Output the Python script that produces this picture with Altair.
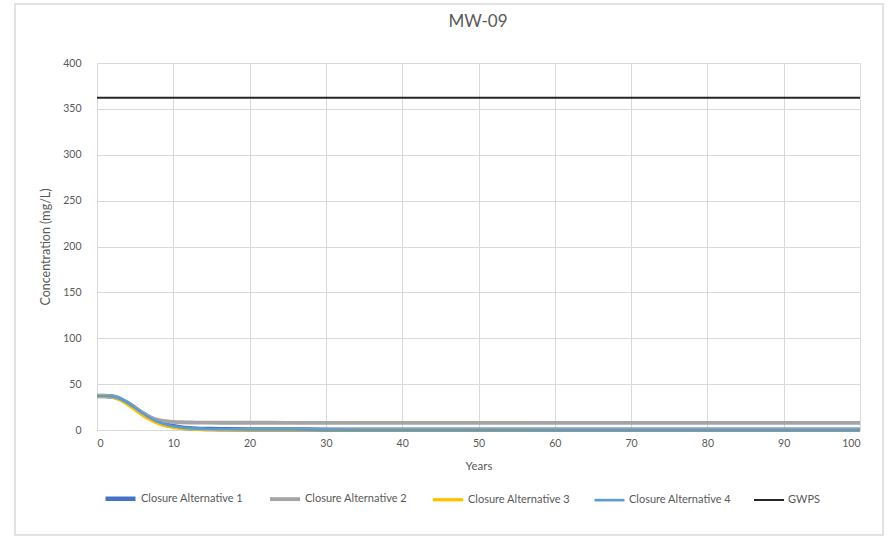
import altair as alt
import pandas as pd

years = [0, 1, 2, 3, 4, 5, 6, 7, 8, 9, 10, 11, 12, 13, 14, 15, 17, 20, 25, 30, 40, 50, 60, 70, 80, 90, 100]
alt1 = [37, 37, 36.5, 34, 29.5, 24, 18, 13, 9, 6, 4, 2.8, 2, 1.5, 1.2, 1.0, 0.8, 0.6, 0.5, 0.4, 0.3, 0.3, 0.2, 0.2, 0.2, 0.2, 0.2]
alt2 = [37, 37, 36.5, 34, 29.5, 24, 18.5, 14, 11, 9.5, 8.8, 8.4, 8.2, 8.1, 8.0, 8.0, 7.9, 7.9, 7.8, 7.8, 7.8, 7.8, 7.8, 7.8, 7.8, 7.8, 7.8]
alt3 = [37, 37, 36, 33, 28, 22, 16, 11, 7, 4.5, 2.8, 1.8, 1.2, 0.8, 0.6, 0.4, 0.3, 0.2, 0.1, 0.1, 0.1, 0.1, 0.1, 0.1, 0.1, 0.1, 0.1]
alt4 = [37, 37, 36.5, 34, 29.5, 24, 18, 13, 9, 6, 4, 2.8, 2, 1.5, 1.2, 1.0, 0.8, 0.6, 0.5, 0.4, 0.3, 0.3, 0.2, 0.2, 0.2, 0.2, 0.2]
gwps = [362] * len(years)

names = ["Closure Alternative 1", "Closure Alternative 2", "Closure Alternative 3",
         "Closure Alternative 4", "GWPS"]
colors = ["#4472C4", "#A5A5A5", "#FFC000", "#5B9BD5", "#262626"]
widths = [4.5, 2, 2, 2, 3]
chart_title = "MW-09"

rows = []
for name, vals in zip(names, [alt1, alt2, alt3, alt4, gwps]):
    for y, v in zip(years, vals):
        rows.append({"Years": y, "Value": v, "Series": name})
df = pd.DataFrame(rows)

FONT = "Lato"
LBL = "#595959"

x_enc = alt.X("Years:Q", scale=alt.Scale(domain=[0, 100], nice=False),
              axis=alt.Axis(values=list(range(0, 101, 10)), title="Years",
                            titleFontWeight="normal", titleFontSize=11.5, titleColor=LBL,
                            titlePadding=12, labelPadding=8,
                            ticks=False, domainColor="#d9d9d9", gridColor="#d9d9d9"))
y_enc = alt.Y("Value:Q", scale=alt.Scale(domain=[0, 400], nice=False),
              axis=alt.Axis(values=list(range(0, 401, 50)), title="Concentration (mg/L)",
                            titleFontWeight="normal", titleFontSize=12.5, titleColor=LBL,
                            titlePadding=10, labelPadding=16,
                            ticks=False, domain=False, gridColor="#d9d9d9"))

base = alt.Chart(df).mark_line(interpolate="monotone").encode(
    x=x_enc, y=y_enc,
    color=alt.Color("Series:N", scale=alt.Scale(domain=names, range=colors),
                    legend=alt.Legend(orient="none", legendX=6, legendY=418, direction="horizontal",
                                      title=None, symbolType="stroke", symbolSize=900,
                                      symbolStrokeWidth=3, labelFontSize=11, labelColor=LBL,
                                      columnPadding=18, labelFont=FONT, labelOffset=3)),
    strokeWidth=alt.StrokeWidth("Series:N", scale=alt.Scale(domain=names, range=widths), legend=None),
    order=alt.Order("Years:Q"),
)

border = alt.Chart(pd.DataFrame({"a": [0]})).mark_rect(
    fill=None, stroke="#d9d9d9", strokeWidth=1.5
).encode(x=alt.value(-82), x2=alt.value(786), y=alt.value(-59), y2=alt.value(472))

title = alt.Chart(pd.DataFrame({"t": [chart_title]})).mark_text(
    fontSize=17, font=FONT, color=LBL, align="center", baseline="middle"
).encode(text="t:N", x=alt.value(381), y=alt.value(-41))

chart = alt.layer(border, base, title).properties(
    width=763, height=367,
    padding={"left": 97, "top": 63, "right": 32, "bottom": 111},
    autosize=alt.AutoSizeParams(type="none"),
).configure_axis(labelFont=FONT, titleFont=FONT, labelColor=LBL, labelFontSize=10.5
).configure_view(stroke=None)

chart.save("out.html", embed_options={"renderer": "svg", "actions": False})
